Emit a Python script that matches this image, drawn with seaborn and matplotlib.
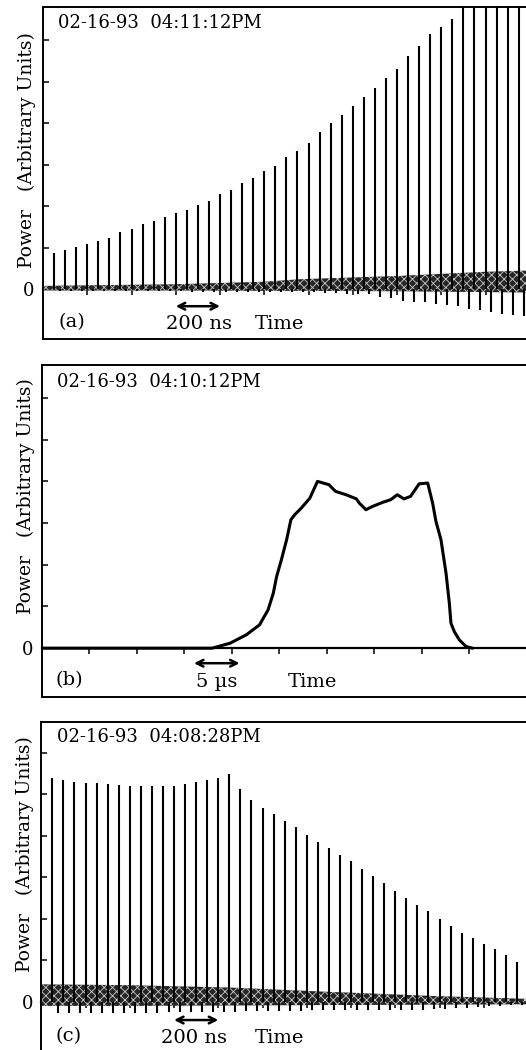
import numpy as np
import pandas as pd
import matplotlib
matplotlib.use('Agg')
import matplotlib.pyplot as plt
import seaborn as sns

# ---- data ----
# (a) pulse train, one pulse every 50 ns, heights in arbitrary units
pulse_h_a = [0.88, 0.95, 1.02, 1.10, 1.16, 1.24, 1.37, 1.46, 1.56, 1.65, 1.73,
             1.84, 1.90, 2.02, 2.12, 2.29, 2.40, 2.55, 2.69, 2.84, 2.98,
             3.19, 3.33, 3.52, 3.79, 4.00, 4.20, 4.42, 4.63, 4.84, 5.08,
             5.30, 5.62, 5.85, 6.14, 6.32, 6.51, 7.0, 7.2, 7.4, 7.6, 7.8, 8.0]
dip_a = [-0.05] * 12 + [-0.07] * 12 + [-0.10, -0.10, -0.12, -0.12, -0.12, -0.18,
         -0.22, -0.28, -0.30, -0.32, -0.36, -0.39, -0.40, -0.47, -0.50, -0.56,
         -0.59, -0.63, -0.65]
band_t_a = [0, 600, 1000, 1160, 1610, 2000, 2200]
band_hi_a = [0.08, 0.12, 0.18, 0.24, 0.32, 0.42, 0.45]
band_lo_a = [-0.03, -0.03, -0.04, -0.04, -0.05, -0.07, -0.08]

# (b) single macro pulse, time in microseconds
curve_t_b = [0, 17.9, 19.8, 21.5, 22.9, 23.8, 24.35, 24.7, 25.2, 25.75,
             26.2, 26.6, 27.3, 28.2, 29.0, 30.2, 30.9, 32.0, 33.1, 33.4,
             34.1, 34.8, 35.9, 36.7, 37.4, 38.1, 38.8, 39.7, 40.6, 41.12,
             41.47, 42.0, 42.53, 42.88, 43.05, 43.4, 43.93, 44.63, 45.33]
curve_p_b = [0, 0, 0.12, 0.32, 0.56, 0.92, 1.32, 1.72, 2.12, 2.60,
             3.08, 3.20, 3.36, 3.60, 4.00, 3.92, 3.76, 3.68, 3.58, 3.48,
             3.32, 3.40, 3.50, 3.56, 3.68, 3.58, 3.64, 3.94, 3.96, 3.48,
             3.04, 2.60, 1.80, 1.08, 0.60, 0.40, 0.20, 0.04, 0]

# (c) pulse train, one pulse every 50 ns
pulse_h_c = [5.38, 5.34, 5.29, 5.26, 5.26, 5.25, 5.22, 5.21, 5.21, 5.21, 5.20,
             5.21, 5.24, 5.29, 5.34, 5.38, 5.48, 5.12, 4.87, 4.68, 4.52, 4.36,
             4.20, 4.02, 3.86, 3.70, 3.54, 3.38, 3.19, 3.04, 2.86, 2.68, 2.50,
             2.34, 2.18, 1.99, 1.82, 1.66, 1.54, 1.40, 1.26, 1.12, 0.95]
dip_c = [-0.28, -0.28, -0.28, -0.27, -0.27, -0.27, -0.26, -0.26, -0.26, -0.26, -0.25,
         -0.25, -0.25, -0.24, -0.24, -0.24, -0.24, -0.23, -0.23, -0.23, -0.22,
         -0.22, -0.22, -0.21, -0.21, -0.21, -0.20, -0.20, -0.20, -0.20, -0.20,
         -0.20, -0.20, -0.19, -0.18, -0.17, -0.16, -0.14, -0.12, -0.10, -0.09, -0.08, -0.07]
band_t_c = [0, 400, 870, 1250, 1770, 2200]
band_hi_c = [0.42, 0.40, 0.34, 0.25, 0.14, 0.07]
band_lo_c = [-0.10, -0.10, -0.09, -0.08, -0.07, -0.06]

pulse_t = np.arange(50, 2200, 50)   # ns, pulse repetition
dip_t = pulse_t + 25

sns.set_theme(style='white')
plt.rcParams['font.family'] = ['DejaVu Serif']
plt.rcParams['text.color'] = 'black'
plt.rcParams['hatch.linewidth'] = 0.6

W, H = 526, 1050
fig = plt.figure(figsize=(W / 100, H / 100), dpi=100)


def px_axes(left, top, right, bottom):
    return fig.add_axes([left / W, 1 - bottom / H, (right - left) / W, (bottom - top) / H])


def frame(ax, xlim, ylim, xticks):
    ax.set_xlim(*xlim)
    ax.set_ylim(*ylim)
    ax.set_facecolor('white')
    for s in ['left', 'top', 'bottom']:
        ax.spines[s].set_visible(True)
        ax.spines[s].set_color('black')
        ax.spines[s].set_linewidth(1.4)
    ax.spines['right'].set_visible(False)
    ax.set_xticks([])
    ax.set_yticks(range(7))
    ax.set_yticklabels(['0'] + [''] * 6, fontsize=13)
    ax.tick_params(axis='y', direction='in', length=4, width=1.1, pad=6,
                   left=True, colors='black')
    lo, hi = ylim
    sec = ax.secondary_xaxis((0 - lo) / (hi - lo))
    sec.set_xticks(xticks)
    sec.set_xticklabels([])
    sec.tick_params(direction='out', length=4, width=1.1, colors='black')
    for s in sec.spines.values():
        s.set_linewidth(1.6)
        s.set_color('black')


def notes(ax, date, tag, scale, x_date, x_tag, x_scale, x_time, arr, y_txt, y_arr, y_date, y_lab):
    ax.text(x_date, y_date, date, fontsize=13, va='center', ha='left')
    ax.text(x_tag, y_txt, tag, fontsize=14, va='center', ha='left')
    ax.text(x_scale, y_txt - 0.05, scale, fontsize=14, va='center', ha='center')
    ax.text(x_time, y_txt - 0.05, 'Time', fontsize=14, va='center', ha='left')
    ax.annotate('', xy=(arr[0], y_arr), xytext=(arr[1], y_arr),
                arrowprops=dict(arrowstyle='<->', lw=1.8, color='black',
                                shrinkA=0, shrinkB=0, mutation_scale=12))
    ax.text(-0.033, y_lab, 'Power   (Arbitrary Units)', fontsize=13.5, rotation=90,
            ha='center', va='center', transform=ax.transAxes)


def pulse_panel(ax, heights, dips, bt, blo, bhi):
    # noisy baseline drawn as a dark stippled band
    ax.fill_between(bt, blo, bhi, facecolor='#262626', edgecolor='#c8c8c8',
                    hatch='xxxx', linewidth=0, zorder=2)
    ax.vlines(pulse_t, 0, heights, color='black', lw=1.5, zorder=3)
    ax.vlines(dip_t, 0, dips, color='black', lw=1.5, zorder=3)


# (a)
ax_a = px_axes(43, 7, 526, 339)
frame(ax_a, (0, 2183), (-1.20, 6.80), np.arange(200, 2200, 200))
pulse_panel(ax_a, pulse_h_a, dip_a, band_t_a, band_lo_a, band_hi_a)
notes(ax_a, '02-16-93  04:11:12PM', '(a)', '200 ns', 68, 68, 703, 958,
      (600, 800), -0.79, -0.41, 6.42, 0.569)

# (b)
ax_b = px_axes(42, 365, 526, 697)
frame(ax_b, (0, 50.95), (-1.17, 6.79), np.arange(5, 50, 5))
df_b = pd.DataFrame({'t': curve_t_b, 'p': curve_p_b})
sns.lineplot(data=df_b, x='t', y='p', ax=ax_b, color='black', lw=2.2,
             sort=False, estimator=None, solid_joinstyle='round')
ax_b.set_xlabel('')
ax_b.set_ylabel('')
notes(ax_b, '02-16-93  04:10:12PM', '(b)', '5 µs', 1.58, 1.4, 18.4, 25.9,
      (16, 20.8), -0.76, -0.36, 6.39, 0.605)

# (c)
ax_c = px_axes(41.3, 722, 526, 1052)
frame(ax_c, (0, 2191), (-1.21, 6.74), np.arange(200, 2200, 200))
pulse_panel(ax_c, pulse_h_c, dip_c, band_t_c, band_lo_c, band_hi_c)
notes(ax_c, '02-16-93  04:08:28PM', '(c)', '200 ns', 71, 66, 690, 966,
      (600, 800), -0.82, -0.44, 6.39, 0.60)

fig.savefig('out.png', dpi=100)
